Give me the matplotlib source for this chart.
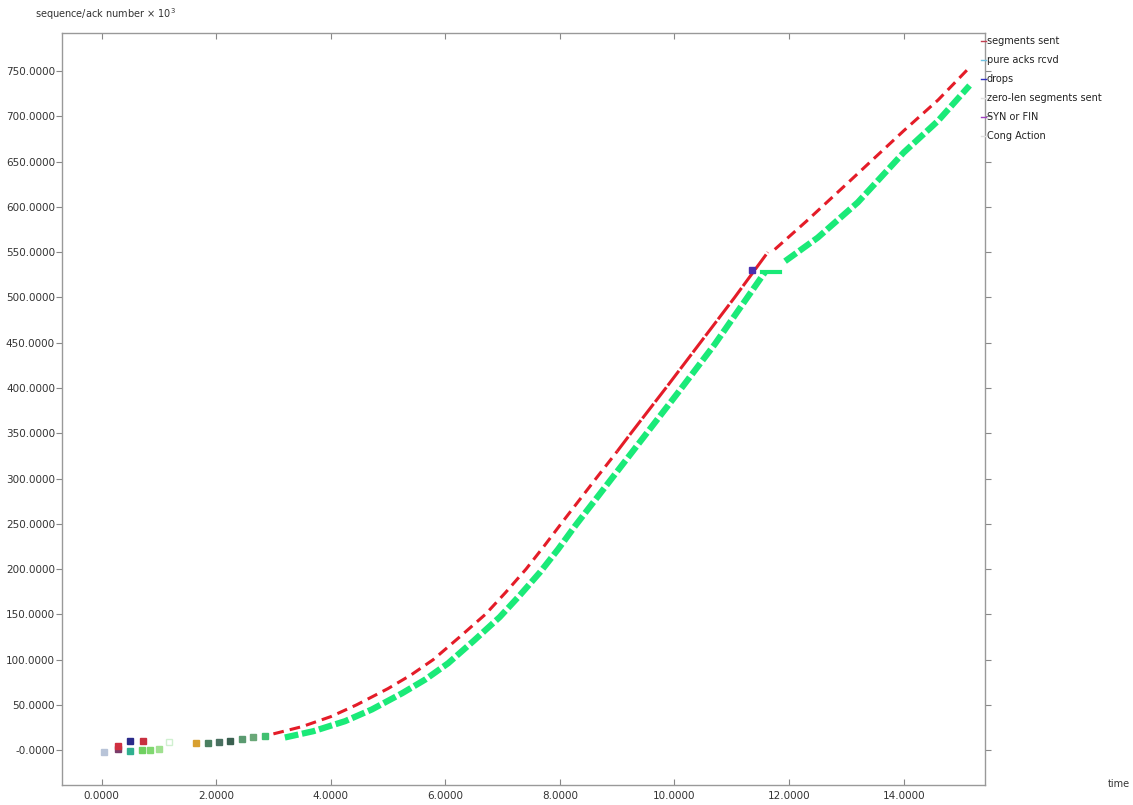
import matplotlib.pyplot as plt

# data (time in s, sequence/ack number x 10^3)
red_t = [3.0, 3.5, 4.0, 4.45, 5.0, 5.4, 5.79, 6.25, 6.70, 7.05, 7.41, 7.72, 8.02, 8.63, 9.0]
red_v = [18, 26, 37, 50, 68, 83, 100, 125, 150, 174, 200, 225, 250, 300, 330]
redmid_t = [9.0, 9.24, 9.85, 10.45, 11.05, 11.63]
redmid_v = [330, 350, 400, 450, 500, 550]
red2_t = [11.75, 12.30, 13.00, 14.00, 14.60, 15.15]
red2_v = [553, 584, 625, 684, 718, 754]

green_t = [3.2, 3.7, 4.25, 4.72, 5.25, 5.65, 6.05, 6.5, 6.95, 7.3, 7.66, 7.97, 8.27, 8.88, 9.49, 10.1, 10.7, 11.25, 11.58]
green_v = [14, 21, 32, 45, 63, 78, 96, 121, 147, 171, 197, 222, 248, 298, 348, 398, 448, 498, 528]
flat_t = [11.53, 11.84]
flat_v = [528, 528]
green2_t = [11.93, 12.50, 13.20, 14.00, 14.60, 15.15]
green2_v = [540, 566, 605, 660, 695, 734]

# early scattered marks
early_t = [0.05, 0.28, 0.28, 0.50, 0.50, 0.72, 0.70, 0.85, 1.00, 1.17, 1.65, 1.85, 2.05, 2.25, 2.45, 2.65, 2.85]
early_v = [-2, 1, 5, 10, -1, 10, 0, 0, 1, 9, 8, 8, 9, 10, 12, 14, 16]
early_c = ['#b8c4d8', '#7a3c6a', '#d03040', '#2a2a8a', '#30b090', '#c83040', '#6fd060', '#80d870',
           '#a0e090', '#d0f0d0', '#d8a030', '#4a8060', '#4a7060', '#3a6050', '#5a9a70', '#6aa878', '#40c070']
early_fill = [True, True, True, True, True, True, True, True, True, False, True,
              True, True, True, True, True, True]

drop_t = [11.35]
drop_v = [530]

xticks = [0, 2, 4, 6, 8, 10, 12, 14]
xlabels = ['0.0000', '2.0000', '4.0000', '6.0000', '8.0000', '10.0000', '12.0000', '14.0000']
yticks = [0, 50, 100, 150, 200, 250, 300, 350, 400, 450, 500, 550, 600, 650, 700, 750]
ylabels = ['-0.0000'] + ['%.4f' % v for v in yticks[1:]]

legend_items = ['segments sent', 'pure acks rcvd', 'drops', 'zero-len segments sent', 'SYN or FIN', 'Cong Action']
legend_marks = ['#c04050', '#70c0e0', '#3030c0', '#e0e0e0', '#a040c0', '#e0e0e0']

fig = plt.figure(figsize=(11.33, 8.05), dpi=100)
ax = fig.add_axes([0.0547, 0.0248, 0.8147, 0.9342])

ax.plot(green_t, green_v, color='#1aea78', lw=4.5, solid_capstyle='butt', dashes=(2.2, 0.6))
ax.plot(flat_t, flat_v, color='#1aea78', lw=3)
ax.plot(green2_t, green2_v, color='#1aea78', lw=4.5, solid_capstyle='butt', dashes=(2.2, 0.6))
ax.plot(red_t, red_v, color='#e41c28', lw=2.2, dashes=(3.5, 2))
ax.plot(redmid_t, redmid_v, color='#e41c28', lw=2.2, dashes=(6, 0.8))
ax.plot(red2_t, red2_v, color='#e41c28', lw=2.2, dashes=(3.5, 2))
ax.plot(drop_t, drop_v, 's', color='#4a30b0', ms=4)

for t, v, c, f in zip(early_t, early_v, early_c, early_fill):
    ax.plot(t, v, 's', ms=4.5, mec=c, mfc=c if f else 'none', mew=1)

ax.set_xlim(-0.69, 15.42)
ax.set_ylim(-38.5, 792)
ax.set_xticks(xticks)
ax.set_xticklabels(xlabels)
ax.set_yticks(yticks)
ax.set_yticklabels(ylabels)
ax.tick_params(colors='#888888', labelcolor='#333333', labelsize=7.5, length=4, width=0.8,
               top=True, right=True, direction='out')
ax.tick_params(axis='y', pad=1)
ax.tick_params(axis='x', direction='in', pad=4)
for s in ax.spines.values():
    s.set_color('#999999')
    s.set_linewidth(1)

fig.text(0.031, 0.978, r'sequence/ack number $\times$ 10$^3$', fontsize=7, color='#333333')
fig.text(0.978, 0.022, 'time', fontsize=7, color='#333333')

for i, (name, mc) in enumerate(zip(legend_items, legend_marks)):
    y = 0.949 - i * 0.0236
    fig.text(0.871, y, name, fontsize=7, color='#222222', va='center')
    fig.lines.append(plt.Line2D([0.866, 0.870], [y, y], color=mc, lw=1, transform=fig.transFigure))

fig.savefig('out.png', dpi=100)
